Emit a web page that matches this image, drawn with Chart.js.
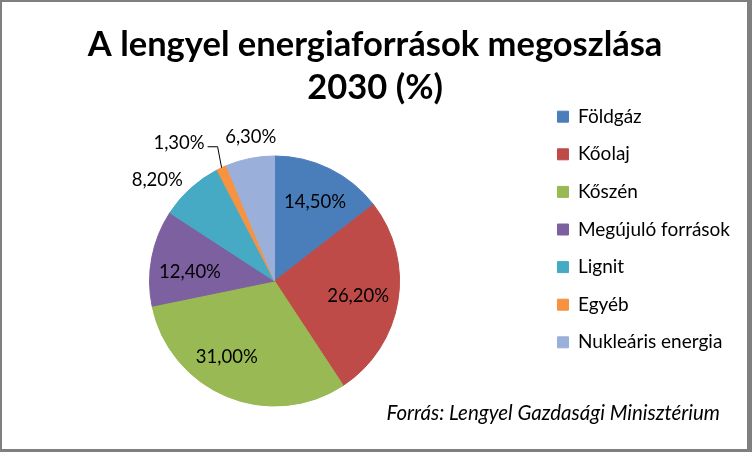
<!DOCTYPE html>
<html>
<head>
<meta charset="utf-8">
<script src="https://cdn.jsdelivr.net/npm/chart.js@4/dist/chart.umd.min.js"></script>
<style>
  body { margin: 0; background: #fff; }
  canvas { display: block; }
</style>
</head>
<body>
<canvas id="energyPie" width="752" height="452"></canvas>
<script>
const categories = ['Földgáz', 'Kőolaj', 'Kőszén', 'Megújuló források', 'Lignit', 'Egyéb', 'Nukleáris energia'];
const shares = [14.5, 26.2, 31.0, 12.4, 8.2, 1.3, 6.3];
const sliceColors = ['#4A7EBB', '#BE4B48', '#98B954', '#7D60A0', '#46AAC5', '#F69240', '#9AB0DA'];
const titleLines = ['A lengyel energiaforrások megoszlása', '2030 (%)'];
const sourceNote = 'Forrás: Lengyel Gazdasági Minisztérium';

// where each value label sits: share of the radius, and a turn (deg) off the slice middle
const labelReach = [0.71, 0.68, 0.72, 0.68, 1.24, 1.0, 1.17];
const labelTurn = [1, 1, 9.5, -5, -7, 0, 2];

const fmt = v => v.toFixed(2).replace('.', ',') + '%';

const sliceLabels = {
  id: 'sliceLabels',
  afterDatasetsDraw(chart) {
    const ctx = chart.ctx;
    const arcs = chart.getDatasetMeta(0).data;
    ctx.save();
    ctx.font = '18.5px Lato';
    ctx.fillStyle = '#000';
    ctx.strokeStyle = '#000';
    ctx.lineWidth = 1;
    ctx.textBaseline = 'middle';
    arcs.forEach((arc, i) => {
      const { x, y, startAngle, endAngle, outerRadius } =
        arc.getProps(['x', 'y', 'startAngle', 'endAngle', 'outerRadius'], true);
      const mid = (startAngle + endAngle) / 2;
      const text = fmt(shares[i]);
      if (shares[i] < 2) {
        // tiny slice: label pulled out with a leader line
        const ex = x + Math.cos(mid) * outerRadius;
        const ey = y + Math.sin(mid) * outerRadius;
        ctx.beginPath();
        ctx.moveTo(ex, ey);
        ctx.lineTo(ex - 4, ey - 21);
        ctx.lineTo(ex - 14, ey - 21);
        ctx.stroke();
        ctx.textAlign = 'right';
        ctx.fillText(text, ex - 17, ey - 25);
        return;
      }
      const a = mid + labelTurn[i] * Math.PI / 180;
      const r = outerRadius * labelReach[i];
      ctx.textAlign = 'center';
      ctx.fillText(text, x + Math.cos(a) * r, y + Math.sin(a) * r);
    });
    ctx.restore();
  }
};

// white background, grey frame and the source note in the lower right corner
const frame = {
  id: 'frame',
  beforeDraw(chart) {
    const { ctx, width, height } = chart;
    ctx.save();
    ctx.fillStyle = '#fff';
    ctx.fillRect(0, 0, width, height);
    ctx.restore();
  },
  afterDraw(chart) {
    const { ctx, width, height } = chart;
    ctx.save();
    ctx.font = 'italic 20.5px Lato';
    ctx.fillStyle = '#000';
    ctx.textAlign = 'right';
    ctx.textBaseline = 'middle';
    ctx.fillText(sourceNote, 720, 413);
    ctx.fillStyle = '#7f7f7f';
    ctx.fillRect(0, 0, width, 2);
    ctx.fillRect(0, 0, 2, height);
    ctx.fillRect(width - 5, 0, 5, height);
    ctx.fillRect(0, height - 3, width, 3);
    ctx.restore();
  }
};

new Chart(document.getElementById('energyPie'), {
  type: 'pie',
  data: {
    labels: categories,
    datasets: [{
      data: shares,
      backgroundColor: sliceColors,
      borderColor: sliceColors,
      borderWidth: 1,
      radius: 125
    }]
  },
  options: {
    responsive: false,
    animation: false,
    events: [],
    layout: { padding: { left: 10.2, right: 12, top: 7, bottom: 0 } },
    plugins: {
      title: {
        display: true,
        text: titleLines,
        color: '#000',
        font: { family: 'Lato', size: 34.5, weight: 'bold', lineHeight: '43px' },
        padding: { top: 16.5, bottom: 0.5 }
      },
      legend: {
        position: 'right',
        align: 'center',
        maxWidth: 201.6,
        labels: {
          color: '#000',
          font: { family: 'Lato', size: 19 },
          boxWidth: 11,
          boxHeight: 11,
          padding: 18.6
        }
      },
      tooltip: { enabled: false }
    }
  },
  plugins: [frame, sliceLabels]
});
</script>
</body>
</html>
